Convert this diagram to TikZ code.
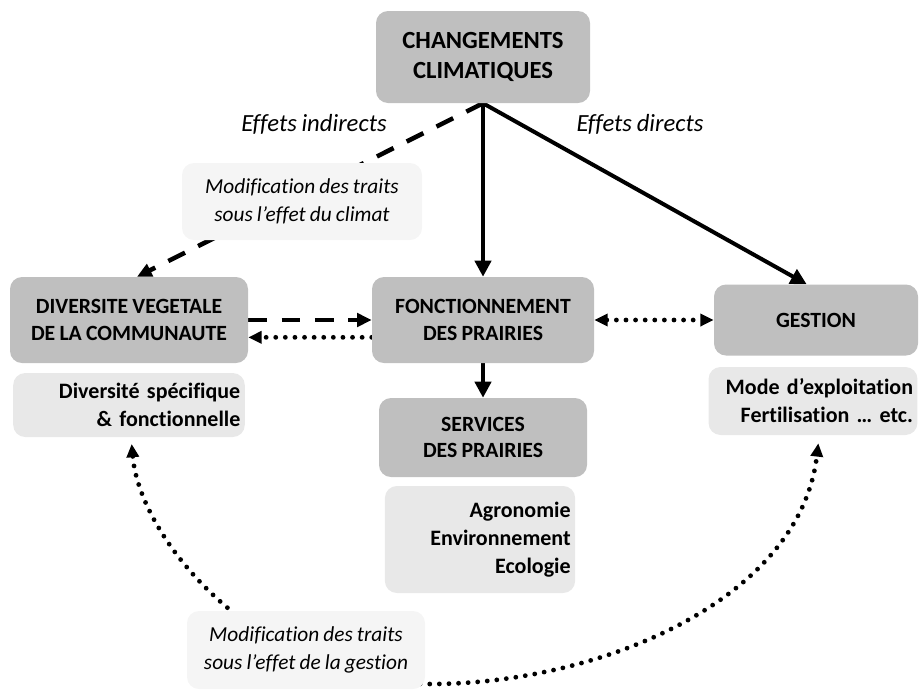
\documentclass[tikz,border=0pt]{standalone}
\usepackage{fontspec}
\setmainfont{Carlito}[Ligatures=NoCommon, WordSpace=0.85]
\usetikzlibrary{arrows.meta,backgrounds}
\definecolor{darkbox}{HTML}{BFBFBF}
\definecolor{lightbox}{HTML}{E8E8E8}
\definecolor{palebox}{HTML}{F5F5F5}
\begin{document}
\begin{tikzpicture}[x=0.75pt,y=-0.75pt,
		box/.style={rounded corners=9pt, fill=darkbox, align=center,
			font=\bfseries\fontsize{16.3}{20}\selectfont},
		list/.style={rounded corners=9pt, fill=lightbox, align=right,
			font=\bfseries\fontsize{16.5}{21}\selectfont},
		note/.style={rounded corners=9pt, fill=palebox, align=center,
			font=\itshape\fontsize{16}{21}\selectfont},
		dtip/.tip={Triangle[length=10pt,width=9pt]},
		plain/.style={line width=3pt, -{Triangle[length=12pt,width=12pt]}},
		dashy/.style={line width=3.4pt, dash pattern=on 14pt off 11pt, -{Triangle[length=11pt,width=10pt]}},
		dots/.style={line width=3.6pt, line cap=round, dash pattern=on 0pt off 7.2pt}
		]
	\useasboundingbox (0,0) rectangle (920,690);
	% main boxes
	\node [box, minimum width=160.5pt, minimum height=69pt, font=\bfseries\fontsize{18.5}{22.5}\selectfont] (cc) at (483,57) {CHANGEMENTS\\CLIMATIQUES};
	\node [box, minimum width=178.5pt, minimum height=64.5pt] (div) at (129,320) {DIVERSITE VEGETALE\\DE LA COMMUNAUTE};
	\node [box, minimum width=166.5pt, minimum height=64.5pt] (fonc) at (483,320) {FONCTIONNEMENT\\DES PRAIRIES};
	\node [box, minimum width=153pt, minimum height=53.25pt] (gest) at (816,320) {GESTION};
	\node [box, minimum width=156pt, minimum height=59.25pt] (serv) at (483,437.5) {SERVICES\\DES PRAIRIES};
	% detail boxes
	\node [list, text width=167pt, minimum height=48pt] (divtxt) at (129,405) {Diversité spécifique\\\& fonctionnelle};
	\node [list, text width=150pt, minimum height=51pt] (modetxt) at (813,401) {Mode d’exploitation\\Fertilisation … etc.};
	\node [list, text width=136pt, minimum height=80.25pt] (agro) at (480,539.5) {Agronomie\\Environnement\\Ecologie};
	\node [note, minimum width=180pt, minimum height=57.75pt] (modclim) at (302,201.5) {Modification des traits\\sous l’effet du climat};
	\node [note, minimum width=178.5pt, minimum height=58.5pt] (modgest) at (306,650) {Modification des traits\\sous l’effet de la gestion};
	% labels
	\node [font=\itshape\fontsize{18.5}{22}\selectfont] (indir) at (314,124) {Effets indirects};
	\node [font=\itshape\fontsize{18.5}{22}\selectfont] (dir) at (640,124) {Effets directs};
	\coordinate (low) at (430,684);
	\begin{pgfonlayer}{background}
		\draw [plain] (cc.south) -- (fonc.north);
		\draw [plain] (cc.south) -- ([xshift=-7pt]gest.north);
		\draw [dashy] (cc.south) -- ([xshift=6pt]div.north);
		\draw [dashy] (div.east) -- (fonc.west);
		\draw [dots, -dtip] ([yshift=-13pt]fonc.west) -- ([yshift=-13pt]div.east);
		\draw [dots, dtip-dtip] (fonc.east) -- (gest.west);
		\draw [plain] (fonc.south) -- (serv.north);
		\draw [dots, dtip-dtip] ([shift={(2pt,-5pt)}]divtxt.south) .. controls (140,540) and (260,684) .. (low)
			.. controls (600,684) and (800,600) .. ([shift={(4pt,-6pt)}]modetxt.south);
	\end{pgfonlayer}
\end{tikzpicture}
\end{document}
